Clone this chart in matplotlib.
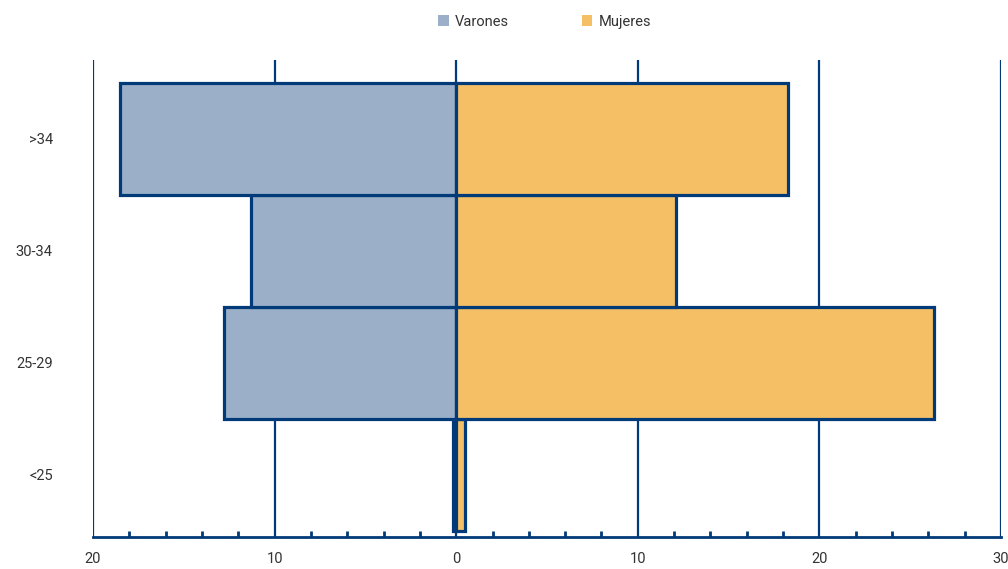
import matplotlib
matplotlib.use("Agg")
import matplotlib.pyplot as plt
from matplotlib.patches import Patch
from matplotlib.ticker import MultipleLocator
import numpy as np

# data
grupos = ["<25", "25-29", "30-34", ">34"]
varones = [0.2, 12.8, 11.3, 18.5]
mujeres = [0.5, 26.3, 12.1, 18.3]
tick_vals = [-20, -10, 0, 10, 20, 30]
tick_labels = ["20", "10", "0", "10", "20", "30"]

navy = "#003a78"
c_var = "#9bb0c8"
c_muj = "#f5c065"
txt = "#333333"

plt.rcParams["font.family"] = ["Roboto", "DejaVu Sans"]

fig = plt.figure(figsize=(10.08, 5.69), dpi=100)
ax = fig.add_axes([0.0923, 0.0562, 0.9007, 0.8384])

y = np.arange(len(grupos))
ax.barh(y, -np.array(varones), height=1.0, color=c_var, edgecolor=navy,
        linewidth=2.3, zorder=3)
ax.barh(y, mujeres, height=1.0, color=c_muj, edgecolor=navy,
        linewidth=2.3, zorder=3)

ax.set_xlim(-20, 30)
ax.set_ylim(-0.554, 3.705)

ax.set_xticks(tick_vals)
ax.set_xticklabels(tick_labels, fontsize=10.5, color=txt)
ax.xaxis.set_minor_locator(MultipleLocator(2))
ax.tick_params(axis="x", which="major", length=0, pad=11)
ax.tick_params(axis="x", which="minor", direction="in", length=4,
               width=2, color=navy)
for v in tick_vals:
    ax.axvline(v, color=navy, linewidth=1.6, zorder=1)

ax.set_yticks(y)
ax.set_yticklabels(grupos, fontsize=10.5, color=txt)
ax.tick_params(axis="y", length=0, pad=29)

for s in ["top", "right", "left"]:
    ax.spines[s].set_visible(False)
ax.spines["bottom"].set_color(navy)
ax.spines["bottom"].set_linewidth(2)

handles = [Patch(facecolor=c_var, edgecolor="none", label="Varones"),
           Patch(facecolor=c_muj, edgecolor="none", label="Mujeres")]
leg = fig.legend(handles=handles, loc="center", bbox_to_anchor=(0.54, 0.962),
                 ncol=2, frameon=False, fontsize=10.5, handlelength=0.75,
                 handleheight=0.75, handletextpad=0.4, columnspacing=5.0)
for t in leg.get_texts():
    t.set_color(txt)

fig.savefig("out.png", dpi=100)
